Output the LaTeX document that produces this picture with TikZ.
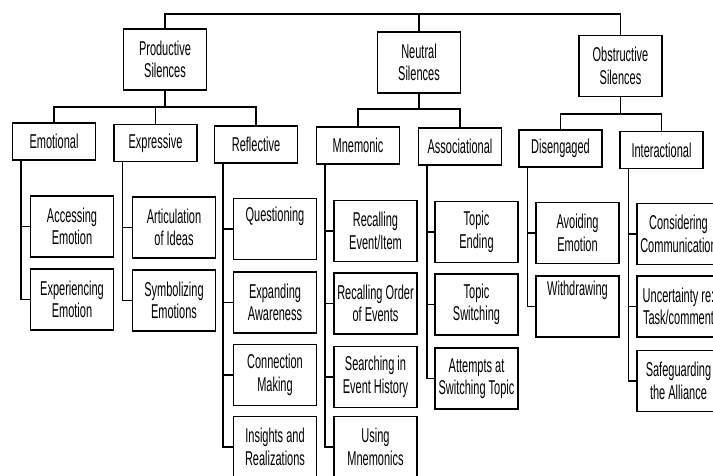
\documentclass[tikz,border=0pt]{standalone}
\usepackage{fontspec}
\setmainfont[FakeStretch=0.55]{Liberation Sans}
\begin{document}
\begin{tikzpicture}[x=1pt,y=-1pt,
  box/.style={draw=black, line width=1.3pt, rectangle, inner sep=0pt,
    align=center, font=\fontsize{20}{22.5}\selectfont, text=black},
  cat/.style={box, minimum width=83pt, minimum height=61pt},
  sub/.style={box, minimum width=83pt, minimum height=37pt},
  leaf/.style={box, minimum width=83pt, minimum height=61pt},
  link/.style={draw=black, line width=1.4pt}]
\clip (0,0) rectangle (713,475);
\fill[white] (0,0) rectangle (713,475);

% top level
\node[cat] (prod) at (165,59.5) {Productive\\Silences};
\node[cat] (neut) at (419,62.5) {Neutral\\Silences};
\node[cat] (obst) at (620.5,66) {Obstructive\\Silences};

% second level
\node[sub] (emo)    at (54,141.5)  {Emotional};
\node[sub] (expr)   at (155.5,143) {Expressive};
\node[sub] (refl)   at (256,144.5) {Reflective};
\node[sub] (mnem)   at (358,145.5) {Mnemonic};
\node[sub] (assoc)  at (460,146.5) {Associational};
\node[sub] (diseng) at (560.5,148.5) {Disengaged};
\node[sub] (inter)  at (661.5,150) {Interactional};

% third level: emotional
\node[leaf] (acc) at (72,226.5) {Accessing\\Emotion};
\node[leaf] (exper) at (72,299.5) {Experiencing\\Emotion};
% expressive
\node[leaf] (artic) at (174,227.5) {Articulation\\of Ideas};
\node[leaf] (symb)  at (174,300.5) {Symbolizing\\Emotions};
% reflective
\node[leaf] (quest) at (275,229) {Questioning\\\strut};
\node[leaf] (expa)  at (275,302.5) {Expanding\\Awareness};
\node[leaf] (conn)  at (275,375) {Connection\\Making};
\node[leaf] (ins)   at (275,447) {Insights and\\Realizations};
% mnemonic
\node[leaf] (recev) at (375.5,231) {Recalling\\Event/Item};
\node[leaf] (recor) at (375.5,303.5) {Recalling Order\\of Events};
\node[leaf] (srch)  at (375.5,377) {Searching in\\Event History};
\node[leaf] (usem)  at (375.5,447) {Using\\Mnemonics};
% associational
\node[leaf] (tend)  at (476.5,232) {Topic\\Ending};
\node[leaf] (tsw)   at (476.5,304.5) {Topic\\Switching};
\node[leaf] (att)   at (476.5,378.5) {Attempts at\\Switching Topic};
% disengaged
\node[leaf] (avoid) at (577.5,233) {Avoiding\\Emotion};
\node[leaf] (withd) at (577.5,306.5) {Withdrawing\\[8pt]\strut};
% interactional
\node[leaf] (cons)  at (678.5,234) {Considering\\Communication};
\node[leaf] (unc)   at (678.5,306.5) {Uncertainty re:\\Task/comment};
\node[leaf] (safe)  at (678.5,381) {Safeguarding\\the Alliance};

% top bar joining the three kinds of silence
\coordinate (topbar) at (419,14);
\draw[link] (prod.north) |- (topbar) -| (obst.north);
\draw[link] (topbar) -- (neut.north);

% productive branch
\coordinate (pbar) at (165,107);
\draw[link] (prod.south) -- (pbar);
\draw[link] (emo.north) |- (pbar) -| (refl.north);
\draw[link] (expr.north) -- (expr.north |- pbar);

% neutral branch
\coordinate (nbar) at (419,109);
\draw[link] (neut.south) -- (nbar);
\draw[link] (mnem.north) |- (nbar) -| (assoc.north);

% obstructive branch
\coordinate (obar) at (620.5,114);
\draw[link] (obst.south) -- (obar);
\draw[link] (diseng.north) |- (obar) -| (inter.north);

% stems to the leaves
\foreach \parent/\kids in {emo/{acc,exper}, expr/{artic,symb},
    refl/{quest,expa,conn,ins}, mnem/{recev,recor,srch,usem},
    assoc/{tend,tsw,att}, diseng/{avoid,withd}, inter/{cons,unc,safe}}{
  \foreach \kid in \kids {
    \draw[link] ([xshift=9pt]\parent.south west) |- (\kid.west);
  }
}
\end{tikzpicture}
\end{document}
